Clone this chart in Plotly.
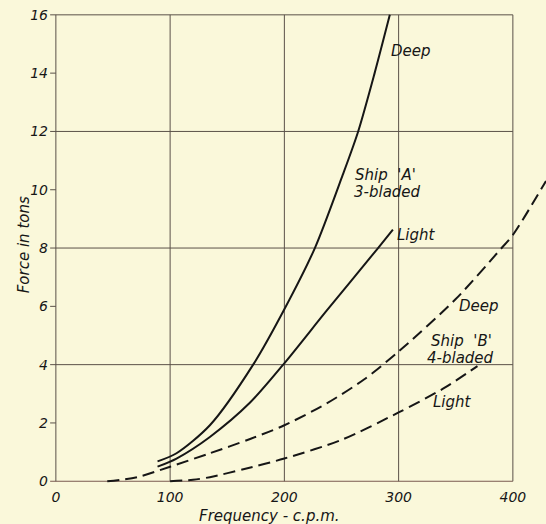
import plotly.graph_objects as go

# ---- data ----
ship_a_deep_freq = [89, 105.6, 134.8, 172.7, 200, 226.7, 251, 264.6, 279, 292.3]
ship_a_deep_force = [0.68, 0.96, 1.92, 4.0, 5.9, 8.0, 10.5, 12.0, 14.0, 16.0]

ship_a_light_freq = [89, 105.6, 134.8, 170, 199, 237, 282, 295]
ship_a_light_force = [0.5, 0.78, 1.52, 2.7, 4.0, 5.85, 8.0, 8.63]

ship_b_deep_freq = [45, 71, 100, 134.8, 170, 200, 237, 270, 300, 350, 389, 400, 429]
ship_b_deep_force = [0.0, 0.14, 0.5, 0.96, 1.45, 1.92, 2.67, 3.5, 4.45, 6.25, 7.95, 8.45, 10.3]

ship_b_light_freq = [100, 120, 134.8, 165, 200, 250, 300, 340, 369]
ship_b_light_force = [0.0, 0.05, 0.14, 0.42, 0.78, 1.42, 2.36, 3.2, 3.95]

x_ticks = [0, 100, 200, 300, 400]
y_ticks = [0, 2, 4, 6, 8, 10, 12, 14, 16]
y_grid = [0, 4, 8, 12, 16]
y_minor = [2, 6, 10, 14]

# curve labels: (text, x, y)
curve_labels = [
    ("Deep", 291.5, 14.75),
    ("Ship\u00a0\u00a0'A'", 260, 10.5),
    ("3-bladed", 259, 9.92),
    ("Light", 297, 8.45),
    ("Deep", 351, 6.0),
    ("Ship\u00a0\u00a0'B'", 327, 4.8),
    ("4-bladed", 323, 4.22),
    ("Light", 328, 2.71),
]

BG = "#FAF8DA"
INK = "#161616"
GRID = "#5a5148"
FONT = "DejaVu Sans"

fig = go.Figure()

line_solid = dict(color=INK, width=2, shape="spline", smoothing=0.8)
line_dash = dict(color=INK, width=2, shape="spline", smoothing=0.8, dash="12px,6px")

fig.add_trace(go.Scatter(x=ship_a_deep_freq, y=ship_a_deep_force, mode="lines", line=line_solid, name="Ship A Deep"))
fig.add_trace(go.Scatter(x=ship_a_light_freq, y=ship_a_light_force, mode="lines", line=line_solid, name="Ship A Light"))
fig.add_trace(go.Scatter(x=ship_b_deep_freq, y=ship_b_deep_force, mode="lines", line=line_dash, name="Ship B Deep"))
fig.add_trace(go.Scatter(x=ship_b_light_freq, y=ship_b_light_force, mode="lines", line=line_dash, name="Ship B Light"))

shapes = []
for yv in y_grid:
    col = "#7a5a50" if yv == 0 else GRID
    shapes.append(dict(type="line", xref="x", yref="y", x0=-5, x1=x_ticks[-1], y0=yv, y1=yv,
                       line=dict(color=col, width=1), layer="below"))
for yv in y_minor:
    shapes.append(dict(type="line", xref="x", yref="y", x0=-5, x1=0, y0=yv, y1=yv,
                       line=dict(color=GRID, width=1), layer="below"))
for xv in x_ticks:
    shapes.append(dict(type="line", xref="x", yref="y", x0=xv, x1=xv, y0=0, y1=y_ticks[-1],
                       line=dict(color=GRID, width=1), layer="below"))

annotations = []
for txt, xv, yv in curve_labels:
    annotations.append(dict(text=txt, x=xv, y=yv, xref="x", yref="y", showarrow=False,
                            xanchor="left", yanchor="middle",
                            font=dict(family=FONT, size=15, color=INK, style="italic")))
annotations.append(dict(text="Frequency - c.p.m.", x=187, y=-0.055, xref="x", yref="paper",
                        showarrow=False, xanchor="center", yanchor="middle",
                        font=dict(family=FONT, size=15, color=INK, style="italic")))
annotations.append(dict(text="Force in tons", x=-0.05, y=8.1, xref="paper", yref="y",
                        showarrow=False, textangle=-90, xanchor="center", yanchor="middle",
                        font=dict(family=FONT, size=15, color=INK, style="italic")))

fig.update_layout(
    width=546, height=524,
    margin=dict(l=49, r=0, t=9, b=34),
    paper_bgcolor=BG, plot_bgcolor=BG,
    showlegend=False,
    shapes=shapes,
    annotations=annotations,
    xaxis=dict(range=[-6, 429], tickvals=x_ticks, ticktext=[str(v) for v in x_ticks],
               showgrid=False, zeroline=False, showline=False, ticks="", automargin=False,
               ticklabelstandoff=-3,
               tickfont=dict(family=FONT, size=14, color=INK, style="italic")),
    yaxis=dict(range=[-0.3, 16.2], tickvals=y_ticks, ticktext=[str(v) for v in y_ticks],
               showgrid=False, zeroline=False, showline=False, ticks="", automargin=False,
               tickfont=dict(family=FONT, size=14, color=INK, style="italic")),
)

fig.write_html(
    "out.html",
    config={"displayModeBar": False},
    post_script="document.body.style.margin='0';document.body.style.overflow='hidden';"
                "document.body.style.background='" + BG + "';",
)
